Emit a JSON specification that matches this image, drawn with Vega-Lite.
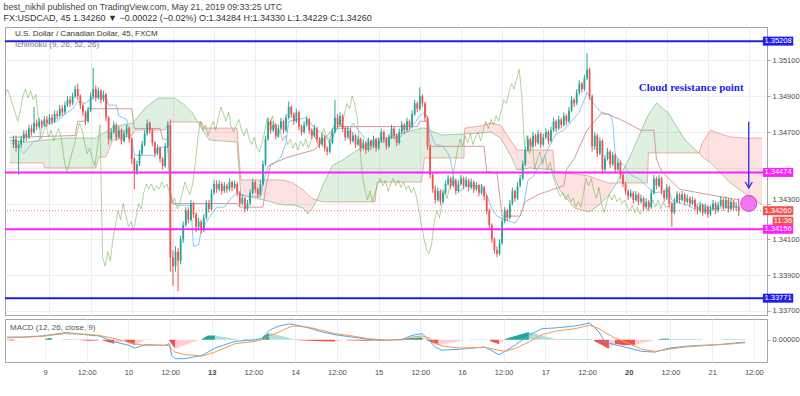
{
"$schema": "https://vega.github.io/schema/vega-lite/v6.json",
"background": "#ffffff",
"padding": {"left": 3, "top": 2, "right": 0, "bottom": 0},
"title": {"text": "best_nikhil published on TradingView.com, May 21, 2019 09:33:25 UTC", "subtitle": "FX:USDCAD, 45  1.34260 ▼ −0.00022 (−0.02%)  O:1.34284  H:1.34330  L:1.34229  C:1.34260", "anchor": "start", "frame": "bounds", "font": "Liberation Sans", "fontSize": 8.8, "fontWeight": "normal", "color": "#444444", "subtitleFont": "Liberation Sans", "subtitleFontSize": 9, "subtitleColor": "#333333", "subtitleFontWeight": "normal", "subtitlePadding": 2, "offset": 4},
"config": {"font": "Liberation Sans", "view": {"stroke": "#a5a5a5", "strokeWidth": 1}, "axis": {"gridColor": "#e8eef4", "gridWidth": 1, "labelFont": "Liberation Sans", "labelFontSize": 7.5, "labelColor": "#4a4a4a", "domainColor": "#a5a5a5", "tickColor": "#a5a5a5"}},
"spacing": 2,
"datasets": {
"bars": [
{"i":-14,"o":1.3463,"h":1.3468,"l":1.3461,"c":1.3466},{"i":-13,"o":1.3466,"h":1.3468,"l":1.3459,"c":1.3461},{"i":-12,"o":1.3461,"h":1.3465,"l":1.3446,"c":1.3463},{"i":-11,"o":1.3463,"h":1.3468,"l":1.3461,"c":1.3466},{"i":-10,"o":1.3466,"h":1.3471,"l":1.3464,"c":1.3469},{"i":-9,"o":1.3469,"h":1.3471,"l":1.3465,"c":1.3467},{"i":-8,"o":1.3467,"h":1.3474,"l":1.3466,"c":1.3472},{"i":-7,"o":1.3472,"h":1.3474,"l":1.3468,"c":1.347},{"i":-6,"o":1.347,"h":1.3484,"l":1.3469,"c":1.3475},{"i":-5,"o":1.3475,"h":1.3477,"l":1.3471,"c":1.3473},
{"i":-4,"o":1.3473,"h":1.3478,"l":1.3472,"c":1.3476},{"i":-3,"o":1.3476,"h":1.3477,"l":1.3472,"c":1.3474},{"i":-2,"o":1.3474,"h":1.3479,"l":1.3473,"c":1.3477},{"i":-1,"o":1.3477,"h":1.3479,"l":1.3473,"c":1.3475},{"i":0,"o":1.3475,"h":1.348,"l":1.3474,"c":1.3478},{"i":1,"o":1.3478,"h":1.348,"l":1.3474,"c":1.3476},{"i":2,"o":1.3476,"h":1.3482,"l":1.3475,"c":1.348},{"i":3,"o":1.348,"h":1.3482,"l":1.3477,"c":1.3479},{"i":4,"o":1.3479,"h":1.3485,"l":1.3478,"c":1.3483},{"i":5,"o":1.3483,"h":1.3485,"l":1.3479,"c":1.3481},
{"i":6,"o":1.3481,"h":1.3487,"l":1.348,"c":1.3485},{"i":7,"o":1.3485,"h":1.349,"l":1.3484,"c":1.3488},{"i":8,"o":1.3488,"h":1.349,"l":1.3484,"c":1.3486},{"i":9,"o":1.3486,"h":1.3492,"l":1.3485,"c":1.349},{"i":10,"o":1.349,"h":1.3496,"l":1.3489,"c":1.3494},{"i":11,"o":1.3494,"h":1.3497,"l":1.3488,"c":1.349},{"i":12,"o":1.349,"h":1.3491,"l":1.3483,"c":1.3485},{"i":13,"o":1.3485,"h":1.3486,"l":1.3479,"c":1.3481},{"i":14,"o":1.3481,"h":1.3482,"l":1.3474,"c":1.3476},{"i":15,"o":1.3476,"h":1.3484,"l":1.3475,"c":1.3482},
{"i":16,"o":1.3482,"h":1.3492,"l":1.3481,"c":1.349},{"i":17,"o":1.349,"h":1.3506,"l":1.3488,"c":1.3494},{"i":18,"o":1.3494,"h":1.3496,"l":1.3487,"c":1.3489},{"i":19,"o":1.3489,"h":1.3495,"l":1.3488,"c":1.3493},{"i":20,"o":1.3493,"h":1.3494,"l":1.3486,"c":1.3488},{"i":21,"o":1.3488,"h":1.3493,"l":1.3487,"c":1.3491},{"i":22,"o":1.3491,"h":1.3492,"l":1.3476,"c":1.3478},{"i":23,"o":1.3478,"h":1.3479,"l":1.3463,"c":1.3466},{"i":24,"o":1.3466,"h":1.3472,"l":1.3465,"c":1.347},{"i":25,"o":1.347,"h":1.3476,"l":1.3469,"c":1.3474},
{"i":26,"o":1.3474,"h":1.3475,"l":1.3465,"c":1.3467},{"i":27,"o":1.3467,"h":1.3473,"l":1.3466,"c":1.3471},{"i":28,"o":1.3471,"h":1.3472,"l":1.3463,"c":1.3465},{"i":29,"o":1.3465,"h":1.3471,"l":1.3464,"c":1.3469},{"i":30,"o":1.3469,"h":1.3474,"l":1.3467,"c":1.3472},{"i":31,"o":1.3472,"h":1.3473,"l":1.3464,"c":1.3466},{"i":32,"o":1.3466,"h":1.3467,"l":1.3452,"c":1.3455},{"i":33,"o":1.3455,"h":1.3456,"l":1.3438,"c":1.3448},{"i":34,"o":1.3448,"h":1.3454,"l":1.3446,"c":1.3452},{"i":35,"o":1.3452,"h":1.346,"l":1.3451,"c":1.3458},
{"i":36,"o":1.3458,"h":1.3465,"l":1.3457,"c":1.3463},{"i":37,"o":1.3463,"h":1.3471,"l":1.3462,"c":1.3469},{"i":38,"o":1.3469,"h":1.3477,"l":1.3468,"c":1.3475},{"i":39,"o":1.3475,"h":1.3476,"l":1.3469,"c":1.3471},{"i":40,"o":1.3471,"h":1.3472,"l":1.3462,"c":1.3464},{"i":41,"o":1.3464,"h":1.3465,"l":1.3456,"c":1.3458},{"i":42,"o":1.3458,"h":1.3463,"l":1.3457,"c":1.3461},{"i":43,"o":1.3461,"h":1.3462,"l":1.3453,"c":1.3455},{"i":44,"o":1.3455,"h":1.3456,"l":1.3449,"c":1.3451},{"i":45,"o":1.3451,"h":1.3464,"l":1.345,"c":1.3462},
{"i":46,"o":1.3462,"h":1.3476,"l":1.3461,"c":1.3474},{"i":47,"o":1.3474,"h":1.3477,"l":1.3392,"c":1.34},{"i":48,"o":1.34,"h":1.3404,"l":1.3384,"c":1.3395},{"i":49,"o":1.3395,"h":1.3406,"l":1.3392,"c":1.3403},{"i":50,"o":1.3403,"h":1.3405,"l":1.3381,"c":1.3398},{"i":51,"o":1.3398,"h":1.3412,"l":1.3396,"c":1.341},{"i":52,"o":1.341,"h":1.342,"l":1.3408,"c":1.3418},{"i":53,"o":1.3418,"h":1.3428,"l":1.3417,"c":1.3426},{"i":54,"o":1.3426,"h":1.3428,"l":1.3419,"c":1.3421},{"i":55,"o":1.3421,"h":1.3432,"l":1.342,"c":1.343},
{"i":56,"o":1.343,"h":1.3431,"l":1.3422,"c":1.3424},{"i":57,"o":1.3424,"h":1.3425,"l":1.3414,"c":1.3417},{"i":58,"o":1.3417,"h":1.3422,"l":1.3415,"c":1.342},{"i":59,"o":1.342,"h":1.3421,"l":1.3413,"c":1.3415},{"i":60,"o":1.3415,"h":1.3424,"l":1.3414,"c":1.3422},{"i":61,"o":1.3422,"h":1.3432,"l":1.3421,"c":1.343},{"i":62,"o":1.343,"h":1.3432,"l":1.3425,"c":1.3427},{"i":63,"o":1.3427,"h":1.3438,"l":1.3426,"c":1.3436},{"i":64,"o":1.3436,"h":1.3443,"l":1.3435,"c":1.3441},{"i":65,"o":1.3441,"h":1.3443,"l":1.3436,"c":1.3438},
{"i":66,"o":1.3438,"h":1.3443,"l":1.3437,"c":1.3441},{"i":67,"o":1.3441,"h":1.3442,"l":1.3435,"c":1.3437},{"i":68,"o":1.3437,"h":1.3442,"l":1.3436,"c":1.344},{"i":69,"o":1.344,"h":1.3441,"l":1.3436,"c":1.3438},{"i":70,"o":1.3438,"h":1.3444,"l":1.3437,"c":1.3442},{"i":71,"o":1.3442,"h":1.3443,"l":1.3437,"c":1.3439},{"i":72,"o":1.3439,"h":1.3443,"l":1.3438,"c":1.3441},{"i":73,"o":1.3441,"h":1.3442,"l":1.3434,"c":1.3436},{"i":74,"o":1.3436,"h":1.3437,"l":1.3428,"c":1.343},{"i":75,"o":1.343,"h":1.3435,"l":1.3429,"c":1.3433},
{"i":76,"o":1.3433,"h":1.3434,"l":1.3425,"c":1.3427},{"i":77,"o":1.3427,"h":1.3432,"l":1.3426,"c":1.343},{"i":78,"o":1.343,"h":1.3438,"l":1.3429,"c":1.3436},{"i":79,"o":1.3436,"h":1.3444,"l":1.3435,"c":1.3442},{"i":80,"o":1.3442,"h":1.3443,"l":1.3436,"c":1.3438},{"i":81,"o":1.3438,"h":1.3439,"l":1.3433,"c":1.3435},{"i":82,"o":1.3435,"h":1.3443,"l":1.3434,"c":1.3441},{"i":83,"o":1.3441,"h":1.3454,"l":1.344,"c":1.3452},{"i":84,"o":1.3452,"h":1.3468,"l":1.3451,"c":1.3466},{"i":85,"o":1.3466,"h":1.3478,"l":1.3465,"c":1.3476},
{"i":86,"o":1.3476,"h":1.3477,"l":1.3469,"c":1.3471},{"i":87,"o":1.3471,"h":1.3476,"l":1.347,"c":1.3474},{"i":88,"o":1.3474,"h":1.3475,"l":1.3466,"c":1.3468},{"i":89,"o":1.3468,"h":1.3474,"l":1.3467,"c":1.3472},{"i":90,"o":1.3472,"h":1.3478,"l":1.3471,"c":1.3476},{"i":91,"o":1.3476,"h":1.3477,"l":1.3469,"c":1.3471},{"i":92,"o":1.3471,"h":1.348,"l":1.347,"c":1.3478},{"i":93,"o":1.3478,"h":1.3487,"l":1.3477,"c":1.3484},{"i":94,"o":1.3484,"h":1.3485,"l":1.3478,"c":1.348},{"i":95,"o":1.348,"h":1.3481,"l":1.3474,"c":1.3476},
{"i":96,"o":1.3476,"h":1.3483,"l":1.3475,"c":1.3481},{"i":97,"o":1.3481,"h":1.3482,"l":1.3471,"c":1.3473},{"i":98,"o":1.3473,"h":1.3474,"l":1.3468,"c":1.347},{"i":99,"o":1.347,"h":1.3476,"l":1.3469,"c":1.3474},{"i":100,"o":1.3474,"h":1.3479,"l":1.3473,"c":1.3477},{"i":101,"o":1.3477,"h":1.3478,"l":1.3469,"c":1.3471},{"i":102,"o":1.3471,"h":1.3472,"l":1.3466,"c":1.3468},{"i":103,"o":1.3468,"h":1.3474,"l":1.3467,"c":1.3472},{"i":104,"o":1.3472,"h":1.3473,"l":1.3464,"c":1.3466},{"i":105,"o":1.3466,"h":1.3467,"l":1.3461,"c":1.3463},
{"i":106,"o":1.3463,"h":1.3469,"l":1.3462,"c":1.3467},{"i":107,"o":1.3467,"h":1.3468,"l":1.3459,"c":1.3461},{"i":108,"o":1.3461,"h":1.3462,"l":1.3457,"c":1.3459},{"i":109,"o":1.3459,"h":1.3466,"l":1.3458,"c":1.3464},{"i":110,"o":1.3464,"h":1.3472,"l":1.3463,"c":1.347},{"i":111,"o":1.347,"h":1.3488,"l":1.3469,"c":1.3478},{"i":112,"o":1.3478,"h":1.348,"l":1.3472,"c":1.3474},{"i":113,"o":1.3474,"h":1.3481,"l":1.3473,"c":1.3479},{"i":114,"o":1.3479,"h":1.348,"l":1.347,"c":1.3472},{"i":115,"o":1.3472,"h":1.3473,"l":1.3465,"c":1.3467},
{"i":116,"o":1.3467,"h":1.3473,"l":1.3466,"c":1.3471},{"i":117,"o":1.3471,"h":1.3472,"l":1.3463,"c":1.3465},{"i":118,"o":1.3465,"h":1.347,"l":1.3464,"c":1.3468},{"i":119,"o":1.3468,"h":1.3469,"l":1.3461,"c":1.3463},{"i":120,"o":1.3463,"h":1.3468,"l":1.3462,"c":1.3466},{"i":121,"o":1.3466,"h":1.3467,"l":1.3459,"c":1.3461},{"i":122,"o":1.3461,"h":1.3466,"l":1.346,"c":1.3464},{"i":123,"o":1.3464,"h":1.3465,"l":1.3458,"c":1.346},{"i":124,"o":1.346,"h":1.3467,"l":1.3459,"c":1.3465},{"i":125,"o":1.3465,"h":1.3466,"l":1.346,"c":1.3462},
{"i":126,"o":1.3462,"h":1.3468,"l":1.3461,"c":1.3466},{"i":127,"o":1.3466,"h":1.3467,"l":1.3459,"c":1.3461},{"i":128,"o":1.3461,"h":1.3467,"l":1.346,"c":1.3465},{"i":129,"o":1.3465,"h":1.3472,"l":1.3464,"c":1.347},{"i":130,"o":1.347,"h":1.3471,"l":1.3464,"c":1.3466},{"i":131,"o":1.3466,"h":1.3467,"l":1.346,"c":1.3462},{"i":132,"o":1.3462,"h":1.3469,"l":1.3461,"c":1.3467},{"i":133,"o":1.3467,"h":1.3474,"l":1.3466,"c":1.3472},{"i":134,"o":1.3472,"h":1.3473,"l":1.3466,"c":1.3468},{"i":135,"o":1.3468,"h":1.3469,"l":1.3462,"c":1.3464},
{"i":136,"o":1.3464,"h":1.3472,"l":1.3463,"c":1.347},{"i":137,"o":1.347,"h":1.3476,"l":1.3469,"c":1.3474},{"i":138,"o":1.3474,"h":1.3475,"l":1.3469,"c":1.3471},{"i":139,"o":1.3471,"h":1.3478,"l":1.347,"c":1.3476},{"i":140,"o":1.3476,"h":1.3477,"l":1.3471,"c":1.3473},{"i":141,"o":1.3473,"h":1.3482,"l":1.3472,"c":1.348},{"i":142,"o":1.348,"h":1.3488,"l":1.3479,"c":1.3486},{"i":143,"o":1.3486,"h":1.3487,"l":1.3481,"c":1.3483},{"i":144,"o":1.3483,"h":1.3495,"l":1.3482,"c":1.349},{"i":145,"o":1.349,"h":1.3491,"l":1.3484,"c":1.3486},
{"i":146,"o":1.3486,"h":1.3487,"l":1.3476,"c":1.3478},{"i":147,"o":1.3478,"h":1.3479,"l":1.346,"c":1.3462},{"i":148,"o":1.3462,"h":1.3463,"l":1.3444,"c":1.3446},{"i":149,"o":1.3446,"h":1.3447,"l":1.3436,"c":1.3438},{"i":150,"o":1.3438,"h":1.344,"l":1.343,"c":1.3432},{"i":151,"o":1.3432,"h":1.3439,"l":1.3431,"c":1.3437},{"i":152,"o":1.3437,"h":1.3438,"l":1.3429,"c":1.3431},{"i":153,"o":1.3431,"h":1.3438,"l":1.343,"c":1.3436},{"i":154,"o":1.3436,"h":1.3443,"l":1.3435,"c":1.3441},{"i":155,"o":1.3441,"h":1.3446,"l":1.344,"c":1.3444},
{"i":156,"o":1.3444,"h":1.3445,"l":1.3438,"c":1.344},{"i":157,"o":1.344,"h":1.3445,"l":1.3439,"c":1.3443},{"i":158,"o":1.3443,"h":1.3444,"l":1.3435,"c":1.3437},{"i":159,"o":1.3437,"h":1.3443,"l":1.3436,"c":1.3441},{"i":160,"o":1.3441,"h":1.3446,"l":1.344,"c":1.3444},{"i":161,"o":1.3444,"h":1.3445,"l":1.3438,"c":1.344},{"i":162,"o":1.344,"h":1.3445,"l":1.3439,"c":1.3443},{"i":163,"o":1.3443,"h":1.3444,"l":1.3437,"c":1.3439},{"i":164,"o":1.3439,"h":1.3444,"l":1.3438,"c":1.3442},{"i":165,"o":1.3442,"h":1.3443,"l":1.3436,"c":1.3438},
{"i":166,"o":1.3438,"h":1.3442,"l":1.3437,"c":1.344},{"i":167,"o":1.344,"h":1.3441,"l":1.3434,"c":1.3436},{"i":168,"o":1.3436,"h":1.3441,"l":1.3435,"c":1.3439},{"i":169,"o":1.3439,"h":1.344,"l":1.3432,"c":1.3434},{"i":170,"o":1.3434,"h":1.3435,"l":1.3424,"c":1.3426},{"i":171,"o":1.3426,"h":1.3427,"l":1.3416,"c":1.3418},{"i":172,"o":1.3418,"h":1.3419,"l":1.3408,"c":1.341},{"i":173,"o":1.341,"h":1.3411,"l":1.3402,"c":1.3404},{"i":174,"o":1.3404,"h":1.3406,"l":1.34,"c":1.3402},{"i":175,"o":1.3402,"h":1.341,"l":1.3401,"c":1.3408},
{"i":176,"o":1.3408,"h":1.3422,"l":1.3407,"c":1.342},{"i":177,"o":1.342,"h":1.3428,"l":1.3419,"c":1.3426},{"i":178,"o":1.3426,"h":1.3427,"l":1.342,"c":1.3422},{"i":179,"o":1.3422,"h":1.3432,"l":1.3421,"c":1.343},{"i":180,"o":1.343,"h":1.3439,"l":1.3429,"c":1.3437},{"i":181,"o":1.3437,"h":1.3438,"l":1.3431,"c":1.3433},{"i":182,"o":1.3433,"h":1.3442,"l":1.3432,"c":1.344},{"i":183,"o":1.344,"h":1.3446,"l":1.3439,"c":1.3444},{"i":184,"o":1.3444,"h":1.3454,"l":1.3443,"c":1.3452},{"i":185,"o":1.3452,"h":1.3462,"l":1.3451,"c":1.346},
{"i":186,"o":1.346,"h":1.3468,"l":1.3459,"c":1.3466},{"i":187,"o":1.3466,"h":1.3467,"l":1.346,"c":1.3462},{"i":188,"o":1.3462,"h":1.347,"l":1.3461,"c":1.3468},{"i":189,"o":1.3468,"h":1.3469,"l":1.3462,"c":1.3464},{"i":190,"o":1.3464,"h":1.3471,"l":1.3463,"c":1.3469},{"i":191,"o":1.3469,"h":1.347,"l":1.3461,"c":1.3463},{"i":192,"o":1.3463,"h":1.3469,"l":1.3462,"c":1.3467},{"i":193,"o":1.3467,"h":1.3472,"l":1.3466,"c":1.347},{"i":194,"o":1.347,"h":1.3471,"l":1.3463,"c":1.3465},{"i":195,"o":1.3465,"h":1.3473,"l":1.3464,"c":1.3471},
{"i":196,"o":1.3471,"h":1.3478,"l":1.347,"c":1.3476},{"i":197,"o":1.3476,"h":1.3477,"l":1.347,"c":1.3472},{"i":198,"o":1.3472,"h":1.3479,"l":1.3471,"c":1.3477},{"i":199,"o":1.3477,"h":1.3478,"l":1.3472,"c":1.3474},{"i":200,"o":1.3474,"h":1.3481,"l":1.3473,"c":1.3479},{"i":201,"o":1.3479,"h":1.348,"l":1.3474,"c":1.3476},{"i":202,"o":1.3476,"h":1.3484,"l":1.3475,"c":1.3482},{"i":203,"o":1.3482,"h":1.349,"l":1.3481,"c":1.3488},{"i":204,"o":1.3488,"h":1.3489,"l":1.3484,"c":1.3486},{"i":205,"o":1.3486,"h":1.3494,"l":1.3485,"c":1.3492},
{"i":206,"o":1.3492,"h":1.3499,"l":1.3491,"c":1.3497},{"i":207,"o":1.3497,"h":1.3498,"l":1.3492,"c":1.3494},{"i":208,"o":1.3494,"h":1.3502,"l":1.3493,"c":1.35},{"i":209,"o":1.35,"h":1.3514,"l":1.3499,"c":1.3505},{"i":210,"o":1.3505,"h":1.3506,"l":1.3488,"c":1.349},{"i":211,"o":1.349,"h":1.3491,"l":1.3459,"c":1.3462},{"i":212,"o":1.3462,"h":1.347,"l":1.346,"c":1.3468},{"i":213,"o":1.3468,"h":1.3469,"l":1.3456,"c":1.3458},{"i":214,"o":1.3458,"h":1.3467,"l":1.3457,"c":1.3465},{"i":215,"o":1.3465,"h":1.3466,"l":1.3447,"c":1.3449},
{"i":216,"o":1.3449,"h":1.3457,"l":1.3448,"c":1.3455},{"i":217,"o":1.3455,"h":1.3461,"l":1.3454,"c":1.3459},{"i":218,"o":1.3459,"h":1.346,"l":1.345,"c":1.3452},{"i":219,"o":1.3452,"h":1.3459,"l":1.3451,"c":1.3457},{"i":220,"o":1.3457,"h":1.3458,"l":1.3447,"c":1.3449},{"i":221,"o":1.3449,"h":1.3455,"l":1.3448,"c":1.3453},{"i":222,"o":1.3453,"h":1.3454,"l":1.3444,"c":1.3446},{"i":223,"o":1.3446,"h":1.3447,"l":1.3439,"c":1.3441},{"i":224,"o":1.3441,"h":1.3442,"l":1.3435,"c":1.3437},{"i":225,"o":1.3437,"h":1.3438,"l":1.3432,"c":1.3434},
{"i":226,"o":1.3434,"h":1.3438,"l":1.3433,"c":1.3436},{"i":227,"o":1.3436,"h":1.3437,"l":1.343,"c":1.3432},{"i":228,"o":1.3432,"h":1.3437,"l":1.3431,"c":1.3435},{"i":229,"o":1.3435,"h":1.3436,"l":1.3429,"c":1.3431},{"i":230,"o":1.3431,"h":1.3435,"l":1.343,"c":1.3433},{"i":231,"o":1.3433,"h":1.3434,"l":1.3426,"c":1.3428},{"i":232,"o":1.3428,"h":1.3433,"l":1.3427,"c":1.3431},{"i":233,"o":1.3431,"h":1.3432,"l":1.3426,"c":1.3428},{"i":234,"o":1.3428,"h":1.3438,"l":1.3427,"c":1.3436},{"i":235,"o":1.3436,"h":1.3446,"l":1.3435,"c":1.3444},
{"i":236,"o":1.3444,"h":1.3445,"l":1.3438,"c":1.344},{"i":237,"o":1.344,"h":1.3446,"l":1.3439,"c":1.3444},{"i":238,"o":1.3444,"h":1.3445,"l":1.3435,"c":1.3437},{"i":239,"o":1.3437,"h":1.3438,"l":1.3431,"c":1.3433},{"i":240,"o":1.3433,"h":1.3441,"l":1.3432,"c":1.3439},{"i":241,"o":1.3439,"h":1.344,"l":1.3428,"c":1.343},{"i":242,"o":1.343,"h":1.3431,"l":1.3417,"c":1.3425},{"i":243,"o":1.3425,"h":1.3433,"l":1.3424,"c":1.3431},{"i":244,"o":1.3431,"h":1.3437,"l":1.343,"c":1.3435},{"i":245,"o":1.3435,"h":1.3436,"l":1.343,"c":1.3432},
{"i":246,"o":1.3432,"h":1.3437,"l":1.3431,"c":1.3435},{"i":247,"o":1.3435,"h":1.3436,"l":1.3429,"c":1.3431},{"i":248,"o":1.3431,"h":1.3435,"l":1.343,"c":1.3433},{"i":249,"o":1.3433,"h":1.3434,"l":1.3428,"c":1.343},{"i":250,"o":1.343,"h":1.3434,"l":1.3429,"c":1.3432},{"i":251,"o":1.3432,"h":1.3433,"l":1.3426,"c":1.3428},{"i":252,"o":1.3428,"h":1.3429,"l":1.3424,"c":1.3426},{"i":253,"o":1.3426,"h":1.3431,"l":1.3425,"c":1.3429},{"i":254,"o":1.3429,"h":1.343,"l":1.3423,"c":1.3425},{"i":255,"o":1.3425,"h":1.343,"l":1.3424,"c":1.3428},
{"i":256,"o":1.3428,"h":1.3429,"l":1.3422,"c":1.3424},{"i":257,"o":1.3424,"h":1.3429,"l":1.3423,"c":1.3427},{"i":258,"o":1.3427,"h":1.3432,"l":1.3426,"c":1.343},{"i":259,"o":1.343,"h":1.3431,"l":1.3424,"c":1.3426},{"i":260,"o":1.3426,"h":1.3431,"l":1.3425,"c":1.3429},{"i":261,"o":1.3429,"h":1.3434,"l":1.3428,"c":1.3432},{"i":262,"o":1.3432,"h":1.3433,"l":1.3426,"c":1.3428},{"i":263,"o":1.3428,"h":1.3434,"l":1.3427,"c":1.3432},{"i":264,"o":1.3432,"h":1.3433,"l":1.3425,"c":1.3427},{"i":265,"o":1.3427,"h":1.3433,"l":1.3426,"c":1.3431},
{"i":266,"o":1.3431,"h":1.3432,"l":1.3426,"c":1.3428},{"i":267,"o":1.3428,"h":1.3431,"l":1.3426,"c":1.34284},{"i":268,"o":1.34284,"h":1.3433,"l":1.34229,"c":1.3426}
],
"cloud": [
{"s":1,"k":"bull","i":-15.4,"a":1.34655,"b":1.34527},{"s":1,"k":"bull","i":-8.8,"a":1.34644,"b":1.34527},{"s":1,"k":"bull","i":-2.3,"a":1.34655,"b":1.34527},{"s":1,"k":"bull","i":-1.9,"a":1.34655,"b":1.34499},{"s":1,"k":"bull","i":6.5,"a":1.34666,"b":1.34499},{"s":1,"k":"bull","i":18,"a":1.34666,"b":1.34499},{"s":1,"k":"bull","i":19.2,"a":1.34678,"b":1.3456},{"s":1,"k":"bull","i":21.9,"a":1.347,"b":1.3456},{"s":1,"k":"bull","i":24.6,"a":1.34728,"b":1.34655},{"s":1,"k":"bull","i":32.2,"a":1.3475,"b":1.34683},{"s":1,"k":"bull","i":33.4,"a":1.34767,"b":1.34711},{"s":1,"k":"bull","i":37.2,"a":1.34834,"b":1.34711},{"s":1,"k":"bull","i":42.2,"a":1.3489,"b":1.34711},{"s":1,"k":"bull","i":44.9,"a":1.3489,"b":1.34711},{"s":1,"k":"bull","i":46.8,"a":1.3489,"b":1.34756},{"s":1,"k":"bull","i":48.7,"a":1.3489,"b":1.34756},{"s":1,"k":"bull","i":52.6,"a":1.34851,"b":1.34756},{"s":1,"k":"bull","i":55.6,"a":1.34806,"b":1.34756},{"s":1,"k":"bull","i":57.6,"a":1.34756,"b":1.34756},
{"s":2,"k":"bear","i":57.6,"a":1.34756,"b":1.34756},{"s":2,"k":"bear","i":59.1,"a":1.34722,"b":1.34756},{"s":2,"k":"bear","i":60.2,"a":1.34694,"b":1.34722},{"s":2,"k":"bear","i":62.2,"a":1.34655,"b":1.34722},{"s":2,"k":"bear","i":72.9,"a":1.34644,"b":1.34722},{"s":2,"k":"bear","i":74.4,"a":1.34348,"b":1.34432},{"s":2,"k":"bear","i":83.3,"a":1.3432,"b":1.34432},{"s":2,"k":"bear","i":90.9,"a":1.34292,"b":1.34432},{"s":2,"k":"bear","i":94.8,"a":1.34292,"b":1.34415},{"s":2,"k":"bear","i":98.6,"a":1.34275,"b":1.34376},{"s":2,"k":"bear","i":100.5,"a":1.34242,"b":1.34348},{"s":2,"k":"bear","i":102.5,"a":1.34281,"b":1.34325},{"s":2,"k":"bear","i":104,"a":1.3432,"b":1.3432},
{"s":3,"k":"bull","i":104,"a":1.3432,"b":1.3432},{"s":3,"k":"bull","i":106.3,"a":1.34404,"b":1.34309},{"s":3,"k":"bull","i":110.1,"a":1.34515,"b":1.34309},{"s":3,"k":"bull","i":114,"a":1.34543,"b":1.34309},{"s":3,"k":"bull","i":119.7,"a":1.34599,"b":1.34309},{"s":3,"k":"bull","i":126.6,"a":1.34655,"b":1.34309},{"s":3,"k":"bull","i":127.4,"a":1.34655,"b":1.3442},{"s":3,"k":"bull","i":137,"a":1.34694,"b":1.3442},{"s":3,"k":"bull","i":144.7,"a":1.34722,"b":1.3442},{"s":3,"k":"bull","i":145.8,"a":1.34722,"b":1.34555},{"s":3,"k":"bull","i":152.3,"a":1.34683,"b":1.34555},{"s":3,"k":"bull","i":161.2,"a":1.34689,"b":1.34555},{"s":3,"k":"bull","i":161.3,"a":1.34689,"b":1.34689},
{"s":4,"k":"bear","i":161.3,"a":1.34689,"b":1.34689},{"s":4,"k":"bear","i":161.5,"a":1.34689,"b":1.34722},{"s":4,"k":"bear","i":167.7,"a":1.34694,"b":1.34733},{"s":4,"k":"bear","i":171.5,"a":1.347,"b":1.3475},{"s":4,"k":"bear","i":175.4,"a":1.34666,"b":1.34739},{"s":4,"k":"bear","i":179.2,"a":1.34571,"b":1.34655},{"s":4,"k":"bear","i":181.9,"a":1.34488,"b":1.34599},{"s":4,"k":"bear","i":186.9,"a":1.34499,"b":1.34599},{"s":4,"k":"bear","i":195.7,"a":1.34488,"b":1.34599},{"s":4,"k":"bear","i":196.5,"a":1.34443,"b":1.34476},{"s":4,"k":"bear","i":198.4,"a":1.34376,"b":1.34476},{"s":4,"k":"bear","i":204.1,"a":1.34275,"b":1.34465},{"s":4,"k":"bear","i":209.9,"a":1.34253,"b":1.34454},{"s":4,"k":"bear","i":213.7,"a":1.34292,"b":1.34432},{"s":4,"k":"bear","i":217.6,"a":1.34348,"b":1.34415},{"s":4,"k":"bear","i":220.6,"a":1.34415,"b":1.34415},
{"s":5,"k":"bull","i":220.6,"a":1.34415,"b":1.34415},{"s":5,"k":"bull","i":226.4,"a":1.34583,"b":1.34415},{"s":5,"k":"bull","i":231,"a":1.34739,"b":1.34415},{"s":5,"k":"bull","i":232.5,"a":1.34784,"b":1.34415},{"s":5,"k":"bull","i":232.9,"a":1.34795,"b":1.34583},{"s":5,"k":"bull","i":236,"a":1.34862,"b":1.34583},{"s":5,"k":"bull","i":240.6,"a":1.34806,"b":1.34583},{"s":5,"k":"bull","i":247.1,"a":1.34655,"b":1.34583},{"s":5,"k":"bull","i":252.1,"a":1.34588,"b":1.34583},{"s":5,"k":"bull","i":252.5,"a":1.34583,"b":1.34583},
{"s":6,"k":"bear","i":252.5,"a":1.34583,"b":1.34583},{"s":6,"k":"bear","i":254,"a":1.3456,"b":1.34644},{"s":6,"k":"bear","i":257.1,"a":1.34527,"b":1.34711},{"s":6,"k":"bear","i":259.8,"a":1.34488,"b":1.34694},{"s":6,"k":"bear","i":264.8,"a":1.34415,"b":1.34672},{"s":6,"k":"bear","i":270.2,"a":1.34359,"b":1.34666},{"s":6,"k":"bear","i":277.1,"a":1.34292,"b":1.34666}
],
"ichi": [
{"s":"tenkan","i":-14,"v":1.3464},{"s":"tenkan","i":-10,"v":1.3458},{"s":"tenkan","i":-6,"v":1.3465},{"s":"tenkan","i":-4,"v":1.3465},{"s":"tenkan","i":-3,"v":1.3473},{"s":"tenkan","i":0,"v":1.3475},{"s":"tenkan","i":3,"v":1.3476},{"s":"tenkan","i":6,"v":1.348},{"s":"tenkan","i":9,"v":1.3483},{"s":"tenkan","i":11,"v":1.3487},{"s":"tenkan","i":14,"v":1.3486},{"s":"tenkan","i":17,"v":1.349},{"s":"tenkan","i":22,"v":1.349},{"s":"tenkan","i":23,"v":1.3485},{"s":"tenkan","i":26,"v":1.3485},{"s":"tenkan","i":27,"v":1.3479},{"s":"tenkan","i":30,"v":1.3477},{"s":"tenkan","i":31,"v":1.347},{"s":"tenkan","i":32,"v":1.3466},{"s":"tenkan","i":33,"v":1.3457},{"s":"tenkan","i":41,"v":1.3457},{"s":"tenkan","i":42,"v":1.3461},{"s":"tenkan","i":46,"v":1.3462},{"s":"tenkan","i":47,"v":1.3434},{"s":"tenkan","i":48,"v":1.343},{"s":"tenkan","i":50,"v":1.3429},{"s":"tenkan","i":55,"v":1.3429},{"s":"tenkan","i":56,"v":1.3406},{"s":"tenkan","i":58,"v":1.3407},{"s":"tenkan","i":59,"v":1.3415},{"s":"tenkan","i":62,"v":1.3422},{"s":"tenkan","i":65,"v":1.3428},{"s":"tenkan","i":68,"v":1.3428},{"s":"tenkan","i":70,"v":1.3432},{"s":"tenkan","i":73,"v":1.3436},{"s":"tenkan","i":77,"v":1.3434},{"s":"tenkan","i":82,"v":1.3434},{"s":"tenkan","i":83,"v":1.344},{"s":"tenkan","i":84,"v":1.3446},{"s":"tenkan","i":85,"v":1.3451},{"s":"tenkan","i":87,"v":1.3452},{"s":"tenkan","i":90,"v":1.3456},{"s":"tenkan","i":92,"v":1.3464},{"s":"tenkan","i":93,"v":1.3476},{"s":"tenkan","i":100,"v":1.3478},{"s":"tenkan","i":102,"v":1.3474},{"s":"tenkan","i":105,"v":1.347},{"s":"tenkan","i":108,"v":1.3467},{"s":"tenkan","i":110,"v":1.3465},{"s":"tenkan","i":111,"v":1.3472},{"s":"tenkan","i":117,"v":1.3472},{"s":"tenkan","i":118,"v":1.3475},{"s":"tenkan","i":120,"v":1.3471},{"s":"tenkan","i":123,"v":1.3466},{"s":"tenkan","i":127,"v":1.3463},{"s":"tenkan","i":130,"v":1.3465},{"s":"tenkan","i":133,"v":1.3467},{"s":"tenkan","i":136,"v":1.3467},{"s":"tenkan","i":139,"v":1.347},{"s":"tenkan","i":142,"v":1.3475},{"s":"tenkan","i":144,"v":1.3479},{"s":"tenkan","i":146,"v":1.3481},{"s":"tenkan","i":147,"v":1.3478},{"s":"tenkan","i":148,"v":1.347},{"s":"tenkan","i":150,"v":1.3463},{"s":"tenkan","i":153,"v":1.3462},{"s":"tenkan","i":155,"v":1.3458},{"s":"tenkan","i":156,"v":1.3454},{"s":"tenkan","i":157,"v":1.3446},{"s":"tenkan","i":158,"v":1.3438},{"s":"tenkan","i":160,"v":1.3437},{"s":"tenkan","i":162,"v":1.344},{"s":"tenkan","i":168,"v":1.344},{"s":"tenkan","i":170,"v":1.3435},{"s":"tenkan","i":172,"v":1.3427},{"s":"tenkan","i":174,"v":1.3423},{"s":"tenkan","i":181,"v":1.3419},{"s":"tenkan","i":183,"v":1.3423},{"s":"tenkan","i":184,"v":1.3427},{"s":"tenkan","i":185,"v":1.3434},{"s":"tenkan","i":186,"v":1.3443},{"s":"tenkan","i":188,"v":1.3445},{"s":"tenkan","i":190,"v":1.345},{"s":"tenkan","i":192,"v":1.3455},{"s":"tenkan","i":194,"v":1.3461},{"s":"tenkan","i":197,"v":1.3469},{"s":"tenkan","i":200,"v":1.3471},{"s":"tenkan","i":203,"v":1.3476},{"s":"tenkan","i":206,"v":1.3481},{"s":"tenkan","i":209,"v":1.3492},{"s":"tenkan","i":211,"v":1.3487},{"s":"tenkan","i":215,"v":1.348},{"s":"tenkan","i":218,"v":1.348},{"s":"tenkan","i":219,"v":1.3476},{"s":"tenkan","i":220,"v":1.3457},{"s":"tenkan","i":224,"v":1.345},{"s":"tenkan","i":226,"v":1.3446},{"s":"tenkan","i":229,"v":1.3444},{"s":"tenkan","i":232,"v":1.344},{"s":"tenkan","i":235,"v":1.3436},{"s":"tenkan","i":241,"v":1.3437},{"s":"tenkan","i":242,"v":1.3432},{"s":"tenkan","i":248,"v":1.3429},{"s":"tenkan","i":251,"v":1.3427},{"s":"tenkan","i":252,"v":1.343},{"s":"tenkan","i":258,"v":1.3427},{"s":"tenkan","i":264,"v":1.3428},{"s":"tenkan","i":268,"v":1.3428},
{"s":"kijun","i":-15.4,"v":1.3467},{"s":"kijun","i":10,"v":1.3468},{"s":"kijun","i":11,"v":1.3476},{"s":"kijun","i":14,"v":1.3476},{"s":"kijun","i":15,"v":1.3483},{"s":"kijun","i":32,"v":1.3483},{"s":"kijun","i":33,"v":1.3472},{"s":"kijun","i":43,"v":1.3472},{"s":"kijun","i":44,"v":1.3466},{"s":"kijun","i":46,"v":1.3466},{"s":"kijun","i":47,"v":1.3437},{"s":"kijun","i":48,"v":1.343},{"s":"kijun","i":73,"v":1.343},{"s":"kijun","i":74,"v":1.3428},{"s":"kijun","i":83,"v":1.3428},{"s":"kijun","i":84,"v":1.3438},{"s":"kijun","i":86,"v":1.3452},{"s":"kijun","i":93,"v":1.3456},{"s":"kijun","i":103,"v":1.346},{"s":"kijun","i":108,"v":1.3468},{"s":"kijun","i":111,"v":1.3473},{"s":"kijun","i":143,"v":1.3473},{"s":"kijun","i":144,"v":1.3476},{"s":"kijun","i":147,"v":1.3476},{"s":"kijun","i":148,"v":1.3462},{"s":"kijun","i":169,"v":1.3462},{"s":"kijun","i":170,"v":1.3448},{"s":"kijun","i":174,"v":1.3447},{"s":"kijun","i":176,"v":1.3423},{"s":"kijun","i":183,"v":1.3423},{"s":"kijun","i":185,"v":1.3431},{"s":"kijun","i":190,"v":1.3435},{"s":"kijun","i":200,"v":1.344},{"s":"kijun","i":201,"v":1.3449},{"s":"kijun","i":204,"v":1.3455},{"s":"kijun","i":209,"v":1.3471},{"s":"kijun","i":215,"v":1.3481},{"s":"kijun","i":222,"v":1.3477},{"s":"kijun","i":230,"v":1.3471},{"s":"kijun","i":235,"v":1.3471},{"s":"kijun","i":236,"v":1.3455},{"s":"kijun","i":238,"v":1.3448},{"s":"kijun","i":245,"v":1.3438},{"s":"kijun","i":268,"v":1.3432}
],
"levels": [
{"p":1.35208,"kind":"major"},{"p":1.34474,"kind":"minor"},{"p":1.34156,"kind":"minor"},{"p":1.33771,"kind":"major"}
],
"macd": [
{"i":-14.6,"m":0.00019,"s":0.00012},{"i":-8.8,"m":0.00019,"s":0.00017},{"i":-1.2,"m":0.00027,"s":0.00024},{"i":7.7,"m":0.00051,"s":0.00044},{"i":10.4,"m":0.00048,"s":0.00041},{"i":15.3,"m":0.00036,"s":0.00041},{"i":20.7,"m":0.00027,"s":0.00031},{"i":26.9,"m":-0.00017,"s":0.00007},{"i":32.2,"m":-0.00041,"s":-0.00022},{"i":34.5,"m":-0.00061,"s":-0.00031},{"i":38.4,"m":-0.00036,"s":-0.00041},{"i":46,"m":-0.00041,"s":-0.00041},{"i":47.6,"m":-0.00029,"s":-0.00041},{"i":48.7,"m":-0.00114,"s":-0.0007},{"i":49.9,"m":-0.00138,"s":-0.0009},{"i":53.7,"m":-0.00138,"s":-0.00109},{"i":60.2,"m":-0.00114,"s":-0.00119},{"i":65.2,"m":-0.00061,"s":-0.0009},{"i":72.9,"m":-0.00012,"s":-0.00029},{"i":80.6,"m":-0.00002,"s":-0.00012},{"i":83.3,"m":0.00012,"s":-0.00002},{"i":86,"m":0.00068,"s":0.00027},{"i":89.8,"m":0.00099,"s":0.00056},{"i":93.6,"m":0.00114,"s":0.0009},{"i":95.9,"m":0.00109,"s":0.00099},{"i":101.3,"m":0.00085,"s":0.0009},{"i":106.3,"m":0.00056,"s":0.00068},{"i":111.3,"m":0.00036,"s":0.00044},{"i":117.8,"m":0.00019,"s":0.00027},{"i":124.3,"m":0.00002,"s":0.00007},{"i":130.5,"m":-0.00005,"s":-0.00002},{"i":137,"m":0.00002,"s":-0.00002},{"i":140.8,"m":0.00031,"s":0.00019},{"i":144.7,"m":0.00044,"s":0.00027},{"i":147.4,"m":-0.00005,"s":0.00012},{"i":149.7,"m":-0.00053,"s":-0.00022},{"i":152.3,"m":-0.00077,"s":-0.00046},{"i":158.9,"m":-0.0007,"s":-0.00061},{"i":168.8,"m":-0.00053,"s":-0.00056},{"i":174.2,"m":-0.00109,"s":-0.00077},{"i":176.5,"m":-0.00085,"s":-0.00085},{"i":180.3,"m":-0.00041,"s":-0.00065},{"i":185.7,"m":0.00031,"s":-0.00017},{"i":190.7,"m":0.0008,"s":0.00036},{"i":195.7,"m":0.00085,"s":0.00061},{"i":203.4,"m":0.00099,"s":0.0008},{"i":209.1,"m":0.00121,"s":0.00104},{"i":212.6,"m":0.00056,"s":0.0008},{"i":214.9,"m":-0.00017,"s":0.00051},{"i":218.7,"m":-0.00036,"s":0.00012},{"i":224.1,"m":-0.00061,"s":-0.00029},{"i":229.1,"m":-0.00085,"s":-0.0007},{"i":234.1,"m":-0.0009,"s":-0.00085},{"i":239.4,"m":-0.00061,"s":-0.0007},{"i":245.6,"m":-0.00048,"s":-0.00053},{"i":252.1,"m":-0.00041,"s":-0.00044},{"i":258.6,"m":-0.00036,"s":-0.00036},{"i":264.8,"m":-0.00024,"s":-0.00029},{"i":268.6,"m":-0.00017,"s":-0.00022}
],
"hist": [
{"g":1,"p":"ng","i":-14.6,"h":-0.00002},{"g":1,"p":"ng","i":-13,"h":-0.00006},{"g":1,"p":"ng","i":-11.5,"h":-0.00004},
{"g":2,"p":"pg","i":0,"h":0.00003},{"g":2,"p":"pg","i":1.5,"h":0.00012},{"g":2,"p":"pg","i":2.7,"h":0.00008},
{"g":3,"p":"pf","i":6.5,"h":0.00003},{"g":3,"p":"pf","i":10,"h":0.00007},{"g":3,"p":"pf","i":13,"h":0.00002},
{"g":4,"p":"ng","i":13,"h":-0.00002},{"g":4,"p":"ng","i":17,"h":-0.00008},{"g":4,"p":"ng","i":20.7,"h":-0.00004},
{"g":5,"p":"ng","i":21.9,"h":-0.00004},{"g":5,"p":"ng","i":26.5,"h":-0.00029},
{"g":6,"p":"nf","i":26.5,"h":-0.00029},{"g":6,"p":"nf","i":30.7,"h":-0.00004},
{"g":7,"p":"ng","i":30.7,"h":-0.00008},{"g":7,"p":"ng","i":34.5,"h":-0.00041},
{"g":8,"p":"nf","i":34.5,"h":-0.00041},{"g":8,"p":"nf","i":38.4,"h":-0.00002},
{"g":9,"p":"pf","i":39,"h":0.00002},{"g":9,"p":"pf","i":41,"h":0.00003},
{"g":10,"p":"ng","i":47.6,"h":-0.00005},{"g":10,"p":"ng","i":49.9,"h":-0.00065},
{"g":11,"p":"nf","i":49.9,"h":-0.00065},{"g":11,"p":"nf","i":59,"h":-0.00002},
{"g":12,"p":"pg","i":60.2,"h":0.00005},{"g":12,"p":"pg","i":62.5,"h":0.00031},{"g":12,"p":"pg","i":65.2,"h":0.00031},
{"g":13,"p":"pf","i":65.2,"h":0.00031},{"g":13,"p":"pf","i":74.4,"h":0.00002},
{"g":14,"p":"pf","i":75.6,"h":0.00004},{"g":14,"p":"pf","i":83.3,"h":0.00007},
{"g":15,"p":"pg","i":83.3,"h":0.00014},{"g":15,"p":"pg","i":86,"h":0.00051},
{"g":16,"p":"pf","i":86,"h":0.00051},{"g":16,"p":"pf","i":95.9,"h":0.00002},
{"g":17,"p":"ng","i":95.9,"h":-0.00003},{"g":17,"p":"ng","i":101.3,"h":-0.00007},{"g":17,"p":"ng","i":106.3,"h":-0.00011},{"g":17,"p":"ng","i":111.3,"h":-0.00014},
{"g":18,"p":"nf","i":111.3,"h":-0.00014},{"g":18,"p":"nf","i":115,"h":-0.00003},
{"g":19,"p":"ng","i":115.5,"h":-0.00005},{"g":19,"p":"ng","i":122,"h":-0.00008},{"g":19,"p":"ng","i":130.5,"h":-0.00004},
{"g":20,"p":"pg","i":137,"h":0.00004},{"g":20,"p":"pg","i":140.8,"h":0.00012},{"g":20,"p":"pg","i":144.7,"h":0.00017},
{"g":21,"p":"pf","i":144.7,"h":0.00017},{"g":21,"p":"pf","i":146.5,"h":0.00003},
{"g":22,"p":"ng","i":146.5,"h":-0.00005},{"g":22,"p":"ng","i":151,"h":-0.00041},
{"g":23,"p":"nf","i":151,"h":-0.00041},{"g":23,"p":"nf","i":161.2,"h":-0.00002},
{"g":24,"p":"pf","i":162.7,"h":0.00003},{"g":24,"p":"pf","i":170.4,"h":0.00003},
{"g":25,"p":"ng","i":170.8,"h":-0.0001},{"g":25,"p":"ng","i":174.2,"h":-0.00034},
{"g":26,"p":"nf","i":174.2,"h":-0.00034},{"g":26,"p":"nf","i":176.5,"h":-0.00002},
{"g":27,"p":"pg","i":176.5,"h":0.00005},{"g":27,"p":"pg","i":185.7,"h":0.00056},
{"g":28,"p":"pf","i":185.7,"h":0.00056},{"g":28,"p":"pf","i":195.7,"h":0.00005},
{"g":29,"p":"pf","i":195.7,"h":0.00005},{"g":29,"p":"pf","i":209.9,"h":0.00005},
{"g":30,"p":"ng","i":210.7,"h":-0.0001},{"g":30,"p":"ng","i":216.4,"h":-0.00065},
{"g":31,"p":"nf","i":216.4,"h":-0.00065},{"g":31,"p":"nf","i":218.7,"h":-0.0003},
{"g":32,"p":"ng","i":218.7,"h":-0.0003},{"g":32,"p":"ng","i":222,"h":-0.00041},{"g":32,"p":"ng","i":226.4,"h":-0.00036},
{"g":33,"p":"nf","i":226.4,"h":-0.00036},{"g":33,"p":"nf","i":234.1,"h":-0.00002},
{"g":34,"p":"pg","i":235.6,"h":0.00004},{"g":34,"p":"pg","i":239.4,"h":0.00009},
{"g":35,"p":"pf","i":239.4,"h":0.00005},{"g":35,"p":"pf","i":252.1,"h":0.00004},
{"g":36,"p":"pf","i":259.8,"h":0.00004},{"g":36,"p":"pf","i":268.6,"h":0.00005}
]
},
"vconcat": [
{
"width": 762,
"height": 288,
"resolve": {"scale": {"color": "independent"}},
"layer": [
{"data": {"name": "cloud"}, "mark": {"type": "area", "opacity": 0.17, "clip": true},
 "encoding": {
  "x": {"field": "i", "type": "quantitative", "title": null, "scale": {"domain": [-15.35, 277.05], "nice": false, "zero": false}, "axis": {"values": [0,16,32,48,64,80,96,112,128,144,160,176,192,208,224,240,256,272], "labels": false, "ticks": false, "domain": false, "grid": true, "title": null}},
  "y": {"field": "a", "type": "quantitative", "title": null, "scale": {"domain": [1.33677, 1.35287], "nice": false, "zero": false}, "axis": {"orient": "right", "values": [1.337,1.338,1.339,1.34,1.341,1.342,1.343,1.344,1.345,1.346,1.347,1.348,1.349,1.35,1.351,1.352], "labelExpr": "abs(datum.value-1.352)<0.0001 || abs(datum.value-1.345)<0.0001 || abs(datum.value-1.342)<0.0001 ? '' : format(datum.value, '.5f')", "labelOffset": {"condition": {"test": "abs(datum.value-1.343)<0.0001", "value": -4}, "value": 0}, "grid": true, "title": null, "tickSize": 3, "labelPadding": 2}},
  "y2": {"field": "b"},
  "color": {"field": "k", "type": "nominal", "scale": {"domain": ["bull", "bear"], "range": ["#43a047", "#ef5350"]}, "legend": null},
  "detail": {"field": "s", "type": "nominal"}
 }},
{"data": {"name": "cloud"}, "mark": {"type": "line", "color": "#43a047", "opacity": 0.45, "strokeWidth": 1, "clip": true},
 "encoding": {"x": {"field": "i", "type": "quantitative", "title": null}, "y": {"field": "a", "type": "quantitative", "title": null}}},
{"data": {"name": "cloud"}, "mark": {"type": "line", "color": "#ef5350", "opacity": 0.45, "strokeWidth": 1, "clip": true},
 "encoding": {"x": {"field": "i", "type": "quantitative", "title": null}, "y": {"field": "b", "type": "quantitative", "title": null}}},
{"data": {"name": "bars"}, "mark": {"type": "line", "color": "#459915", "opacity": 0.42, "strokeWidth": 1, "xOffset": -67.75, "clip": true},
 "encoding": {"x": {"field": "i", "type": "quantitative", "title": null}, "y": {"field": "c", "type": "quantitative", "title": null}}},
{"data": {"name": "ichi"}, "mark": {"type": "line", "strokeWidth": 1, "clip": true},
 "encoding": {"x": {"field": "i", "type": "quantitative", "title": null}, "y": {"field": "v", "type": "quantitative", "title": null},
  "color": {"field": "s", "type": "nominal", "scale": {"domain": ["tenkan", "kijun"], "range": ["#86c6f6", "#d49a9a"]}, "legend": null}}},
{"data": {"name": "bars"}, "mark": {"type": "rule", "strokeWidth": 1, "clip": true},
 "encoding": {"x": {"field": "i", "type": "quantitative", "title": null}, "y": {"field": "l", "type": "quantitative", "title": null}, "y2": {"field": "h"},
  "color": {"condition": {"test": "datum.c >= datum.o", "value": "#26a69a"}, "value": "#ef5350"}}},
{"data": {"name": "bars"}, "mark": {"type": "bar", "width": 1.8, "clip": true},
 "encoding": {"x": {"field": "i", "type": "quantitative", "title": null}, "y": {"field": "o", "type": "quantitative", "title": null}, "y2": {"field": "c"},
  "color": {"condition": {"test": "datum.c >= datum.o", "value": "#26a69a"}, "value": "#ef5350"}}},
{"data": {"values": [{}]}, "mark": {"type": "rule", "color": "#ef5350", "strokeDash": [1, 2], "opacity": 0.8, "strokeWidth": 1},
 "encoding": {"y": {"datum": 1.3426}}},
{"data": {"name": "levels"}, "mark": {"type": "rule", "strokeWidth": 2},
 "encoding": {"y": {"field": "p", "type": "quantitative", "title": null},
  "color": {"field": "kind", "type": "nominal", "scale": {"domain": ["major", "minor"], "range": ["#1f1fe6", "#ff1fff"]}, "legend": null}}},
{"data": {"name": "levels"}, "mark": {"type": "rect", "yOffset": -4.5, "y2Offset": 4.5},
 "encoding": {"x": {"datum": 277.4}, "x2": {"datum": 289.2}, "y": {"field": "p", "type": "quantitative", "title": null}, "y2": {"field": "p"},
  "color": {"field": "kind", "type": "nominal", "scale": {"domain": ["major", "minor"], "range": ["#1f1fe6", "#ff1fff"]}, "legend": null}}},
{"data": {"name": "levels"}, "mark": {"type": "text", "color": "#ffffff", "fontSize": 7.5, "align": "center", "baseline": "middle"},
 "encoding": {"x": {"datum": 283.3}, "y": {"field": "p", "type": "quantitative", "title": null}, "text": {"field": "p", "type": "quantitative", "format": ".5f"}}},
{"data": {"values": [{}]}, "mark": {"type": "rect", "color": "#ef5350", "yOffset": -4.5, "y2Offset": 4.5},
 "encoding": {"x": {"datum": 277.4}, "x2": {"datum": 289.2}, "y": {"datum": 1.3426}, "y2": {"datum": 1.3426}}},
{"data": {"values": [{}]}, "mark": {"type": "text", "color": "#ffffff", "fontSize": 7.5, "align": "center", "baseline": "middle"},
 "encoding": {"x": {"datum": 283.3}, "y": {"datum": 1.3426}, "text": {"value": "1.34260"}}},
{"data": {"values": [{}]}, "mark": {"type": "rect", "color": "#ef5350", "yOffset": 6, "y2Offset": 14.6},
 "encoding": {"x": {"datum": 281.2}, "x2": {"datum": 289.2}, "y": {"datum": 1.3426}, "y2": {"datum": 1.3426}}},
{"data": {"values": [{}]}, "mark": {"type": "text", "color": "#ffffff", "fontSize": 7.5, "align": "center", "baseline": "middle", "yOffset": 10.3},
 "encoding": {"x": {"datum": 285.2}, "y": {"datum": 1.3426}, "text": {"value": "11:36"}}},
{"data": {"values": [{}]}, "mark": {"type": "text", "color": "#333333", "fontSize": 8, "align": "left", "baseline": "middle"},
 "encoding": {"x": {"datum": -13.4}, "y": {"datum": 1.35248}, "text": {"value": "U.S. Dollar / Canadian Dollar, 45, FXCM"}}},
{"data": {"values": [{}]}, "mark": {"type": "text", "color": "#777777", "fontSize": 8, "align": "left", "baseline": "middle"},
 "encoding": {"x": {"datum": -13.4}, "y": {"datum": 1.35186}, "text": {"value": "Ichimoku (9, 26, 52, 26)"}}},
{"data": {"values": [{}]}, "mark": {"type": "text", "color": "#2323e6", "font": "Liberation Serif", "fontSize": 11, "fontWeight": "bold", "align": "center", "baseline": "middle"},
 "encoding": {"x": {"datum": 249.5}, "y": {"datum": 1.34944}, "text": {"value": "Cloud resistance point"}}},
{"data": {"values": [{}]}, "mark": {"type": "rule", "color": "#2a2ae8", "strokeWidth": 1.3},
 "encoding": {"x": {"datum": 271.9}, "y": {"datum": 1.34758}, "y2": {"datum": 1.3439}}},
{"data": {"values": [{}]}, "mark": {"type": "point", "shape": "M-1,-1.7L0,0L1,-1.7", "size": 49, "filled": false, "color": "#2a2ae8", "strokeWidth": 1.3, "opacity": 1},
 "encoding": {"x": {"datum": 271.9}, "y": {"datum": 1.34387}}},
{"data": {"values": [{}]}, "mark": {"type": "point", "shape": "circle", "size": 260, "filled": true, "fill": "#f266ee", "fillOpacity": 0.9, "stroke": "#c94fc4", "strokeWidth": 1, "opacity": 1},
 "encoding": {"x": {"datum": 271.9}, "y": {"datum": 1.34301}}}
]
},
{
"width": 762,
"height": 43,
"layer": [
{"data": {"name": "hist"}, "mark": {"type": "area", "clip": true},
 "encoding": {
  "x": {"field": "i", "type": "quantitative", "title": null, "scale": {"domain": [-15.35, 277.05], "nice": false, "zero": false},
   "axis": {"values": [0,16,32,48,64,80,96,112,128,144,160,176,192,208,224,240,256,272], "labelExpr": "['9','12:00','10','12:00','13','12:00','14','12:00','15','12:00','16','12:00','17','12:00','20','12:00','21','12:00'][round(datum.value/16)]", "labelFontWeight": {"condition": {"test": "datum.value == 64 || datum.value == 224", "value": "bold"}, "value": "normal"}, "grid": true, "ticks": false, "tickSize": 0, "domain": false, "labelPadding": 6, "title": "Created with TradingView", "titleAnchor": "start", "titleAlign": "left", "titleX": 0, "titleY": 25, "titleBaseline": "middle", "titleFontSize": 9, "titleFontWeight": "normal", "titleColor": "#333333"}},
  "y": {"field": "h", "type": "quantitative", "title": null, "scale": {"domain": [-0.00162, 0.0015], "nice": false, "zero": false},
   "axis": {"orient": "right", "values": [0], "format": ".5f", "grid": false, "title": null, "tickSize": 3, "labelPadding": 2}},
  "y2": {"datum": 0},
  "color": {"field": "p", "type": "nominal", "scale": {"domain": ["pg", "pf", "ng", "nf"], "range": ["#26a69a", "#b2dfdb", "#ef5350", "#ffcdd2"]}, "legend": null},
  "detail": {"field": "g", "type": "nominal"}
 }},
{"data": {"name": "macd"}, "mark": {"type": "line", "color": "#4aaaf0", "strokeWidth": 1, "clip": true},
 "encoding": {"x": {"field": "i", "type": "quantitative", "title": null}, "y": {"field": "m", "type": "quantitative", "title": null}}},
{"data": {"name": "macd"}, "mark": {"type": "line", "color": "#f59a4a", "strokeWidth": 1, "clip": true},
 "encoding": {"x": {"field": "i", "type": "quantitative", "title": null}, "y": {"field": "s", "type": "quantitative", "title": null}}},
{"data": {"values": [{}]}, "mark": {"type": "text", "color": "#555555", "fontSize": 8, "align": "left", "baseline": "middle"},
 "encoding": {"x": {"datum": -13.4}, "y": {"datum": 0.00085}, "text": {"value": "MACD (12, 26, close, 9)"}}}
]
}
]
}
